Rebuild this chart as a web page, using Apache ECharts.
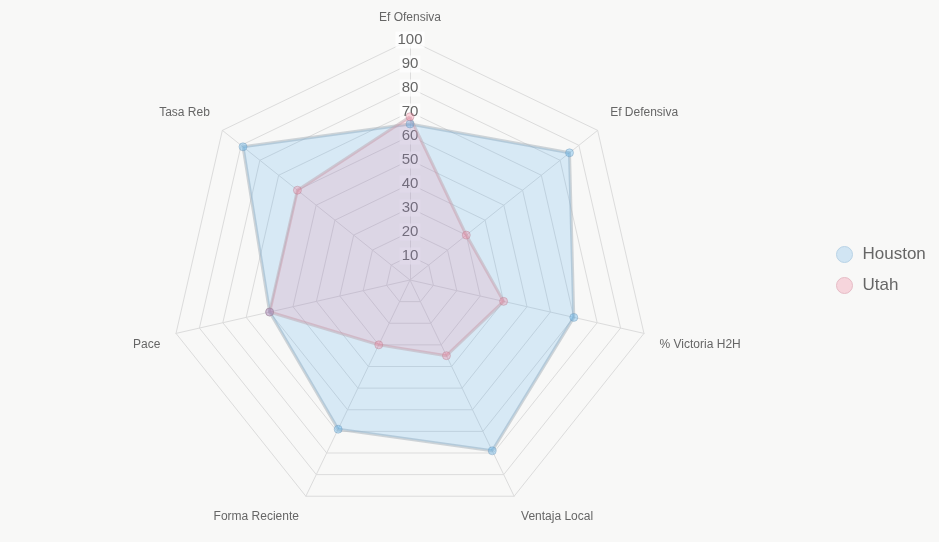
<!DOCTYPE html>
<html>
<head>
<meta charset="utf-8">
<script src="https://cdn.jsdelivr.net/npm/echarts@6/dist/echarts.min.js"></script>
<style>
  html, body { margin: 0; padding: 0; background: #f8f8f7; }
  #chart { width: 939px; height: 542px; }
</style>
</head>
<body>
<div id="chart"></div>
<script>
// clockwise order, starting at the top
const indicators = ['Ef Ofensiva', 'Ef Defensiva', '% Victoria H2H', 'Ventaja Local', 'Forma Reciente', 'Pace', 'Tasa Reb'];
const houston = [65, 85, 70, 79, 69, 60, 89];
const utah = [68, 30, 40, 35, 30, 60, 60];
const teams = ['Houston', 'Utah'];

// echarts lays indicators out counter-clockwise, so flip everything after the first
const order = [0, 6, 5, 4, 3, 2, 1];
const pick = (arr) => order.map((i) => arr[i]);

// small vertical nudges for the names so they sit like the original
const nameStyle = {
  'Ef Defensiva': 'up', 'Tasa Reb': 'up',
  '% Victoria H2H': 'down', 'Pace': 'down',
  'Ventaja Local': 'low', 'Forma Reciente': 'low'
};

const chart = echarts.init(document.getElementById('chart'));

const option = {
  backgroundColor: '#f8f8f7',
  legend: {
    orient: 'vertical',
    left: 831,
    top: 241,
    icon: 'circle',
    itemWidth: 16,
    itemHeight: 16,
    itemGap: 14,
    textStyle: { color: '#666', fontSize: 17, fontFamily: 'Liberation Sans, Arial, sans-serif', padding: [0, 0, 0, 5] },
    data: [
      { name: teams[0], itemStyle: { color: '#d1e5f3', borderColor: '#b9d3e6', borderWidth: 1 } },
      { name: teams[1], itemStyle: { color: '#f6d5dc', borderColor: '#e6bcc6', borderWidth: 1 } }
    ]
  },
  radar: {
    center: [410, 280],
    radius: 240,
    startAngle: 90,
    splitNumber: 10,
    shape: 'polygon',
    nameGap: 16,
    axisName: {
      color: '#666',
      fontSize: 12,
      fontFamily: 'Liberation Sans, Arial, sans-serif',
      formatter: (name) => nameStyle[name] ? '{' + nameStyle[name] + '|' + name + '}' : name,
      rich: {
        up: { color: '#666', fontSize: 12, padding: [0, 0, 16, 0] },
        down: { color: '#666', fontSize: 12, padding: [16, 0, 0, 0] },
        low: { color: '#666', fontSize: 12, padding: [12, 0, 0, 0] }
      }
    },
    axisLine: { lineStyle: { color: '#dcdcdc', width: 1 } },
    splitLine: { lineStyle: { color: '#dcdcdc', width: 1 } },
    splitArea: { show: false },
    axisLabel: { show: false },
    indicator: pick(indicators).map((name, i) => ({
      name: name,
      max: 100,
      min: 0,
      axisLabel: i === 0 ? {
        show: true,
        showMinLabel: false,
        margin: 0,
        align: 'center',
        verticalAlign: 'middle',
        color: '#666',
        fontSize: 15,
        fontFamily: 'Liberation Sans, Arial, sans-serif',
        backgroundColor: 'rgba(255,255,255,0.75)',
        padding: [1, 2]
      } : { show: false }
    }))
  },
  series: [{
    type: 'radar',
    symbol: 'circle',
    symbolSize: 8,
    data: [
      {
        name: teams[0],
        value: pick(houston),
        itemStyle: { color: 'rgba(54,162,235,0.3)', borderColor: 'rgba(120,155,185,0.45)', borderWidth: 1 },
        lineStyle: { color: 'rgba(170,180,190,0.55)', width: 3 },
        areaStyle: { color: 'rgba(54,162,235,0.24)' }
      },
      {
        name: teams[1],
        value: pick(utah),
        itemStyle: { color: 'rgba(255,99,132,0.25)', borderColor: 'rgba(185,135,150,0.45)', borderWidth: 1 },
        lineStyle: { color: 'rgba(190,165,175,0.5)', width: 3 },
        areaStyle: { color: 'rgba(255,99,132,0.2)' }
      }
    ]
  }]
};

chart.setOption(option);
</script>
</body>
</html>
